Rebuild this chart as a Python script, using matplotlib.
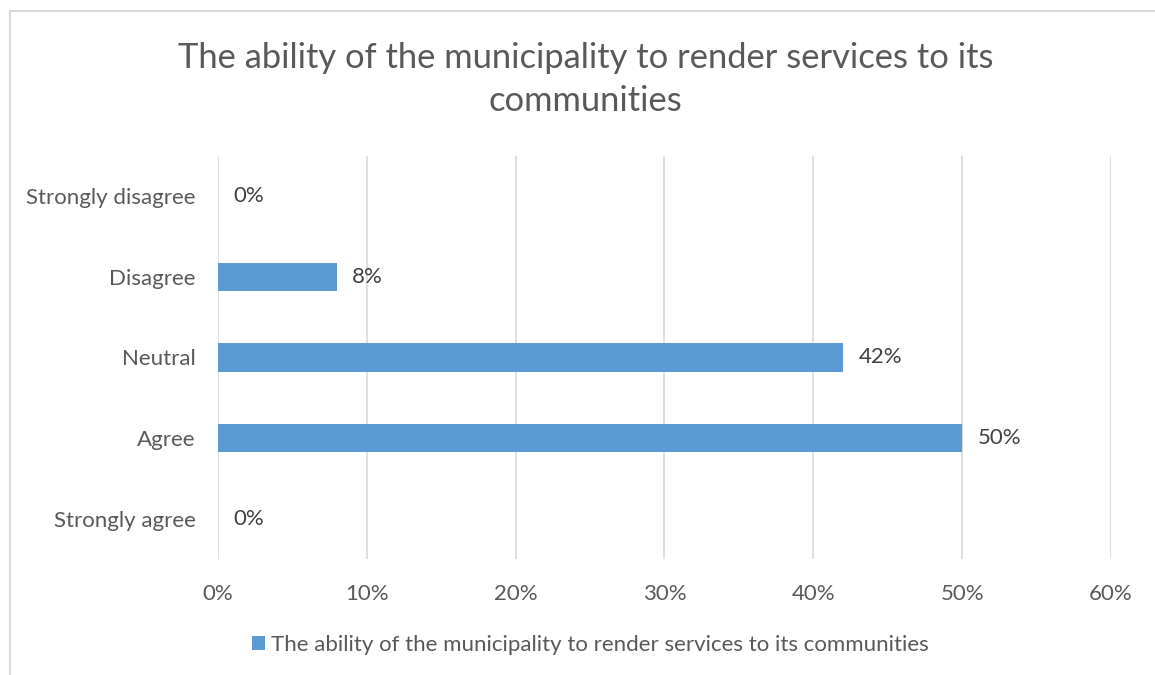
import matplotlib.pyplot as plt
from matplotlib.patches import Rectangle
from matplotlib.ticker import FuncFormatter

# survey responses, top to bottom as listed on the chart
categories = ['Strongly disagree', 'Disagree', 'Neutral', 'Agree', 'Strongly agree']
percentages = [0, 8, 42, 50, 0]
series_name = 'The ability of the municipality to render services to its communities'
title = 'The ability of the municipality to render services to its\ncommunities'

bar_color = '#5B9BD5'
grid_color = '#D9D9D9'
text_color = '#595959'
label_color = '#404040'

plt.rcParams['font.family'] = ['Lato', 'DejaVu Sans']

fig = plt.figure(figsize=(11.55, 6.75), dpi=100)
ax = fig.add_axes([0.1887, 0.1713, 0.7732, 0.5982])

# chart border
fig.patches.append(Rectangle((10 / 1155, -0.05), 1.1, 1 - 11 / 675 + 0.05,
                             transform=fig.transFigure, fill=False,
                             edgecolor='#D9D9D9', linewidth=1.5))

ypos = list(range(len(categories)))[::-1]
bars = ax.barh(ypos, percentages, height=0.35, color=bar_color,
               linewidth=0, label=series_name, zorder=3)

for y, v in zip(ypos, percentages):
    ax.annotate(f'{v}%', xy=(v, y), xytext=(11, 0), textcoords='offset points',
                va='center', ha='left', fontsize=16, color=label_color)

ax.set_xlim(0, 60)
ax.set_ylim(-0.5, len(categories) - 0.5)
ax.set_xticks(range(0, 61, 10))
ax.xaxis.set_major_formatter(FuncFormatter(lambda x, _: f'{x:.0f}%'))
ax.set_yticks(ypos)
ax.set_yticklabels(categories)
ax.tick_params(axis='both', length=0, labelsize=16, labelcolor=text_color)
ax.tick_params(axis='x', pad=18)
ax.tick_params(axis='y', pad=16)
ax.grid(axis='x', color=grid_color, linewidth=1.2, zorder=0)
for s in ax.spines.values():
    s.set_visible(False)

fig.text(0.507, 0.882, title, ha='center', va='center', fontsize=24.8,
         color=text_color, linespacing=1.4)

fig.legend(handles=[bars], labels=[series_name], loc='center',
           bbox_to_anchor=(0.511, 0.045), frameon=False, fontsize=16,
           labelcolor=text_color, handlelength=0.6, handleheight=0.6,
           handletextpad=0.25)

fig.savefig('out.png', dpi=100, facecolor='white')
